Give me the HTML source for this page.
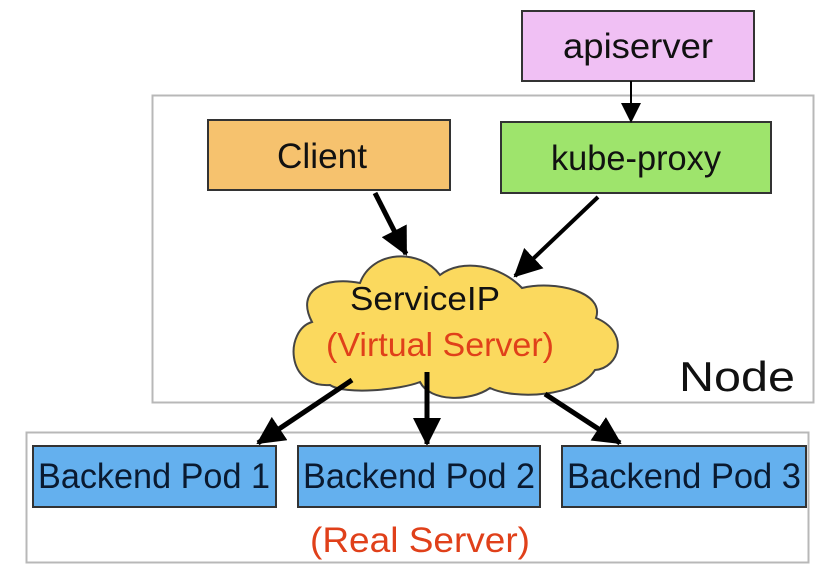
<!DOCTYPE html>
<html><head><meta charset="utf-8"><style>html,body{margin:0;padding:0;background:#fff}svg{display:block}</style></head>
<body>
<svg width="816" height="573" viewBox="0 0 816 573" xmlns="http://www.w3.org/2000/svg" font-family="Liberation Sans, Arial, sans-serif">
<defs>
<marker id="ab" markerWidth="28" markerHeight="28" refX="26" refY="14" orient="auto" markerUnits="userSpaceOnUse" viewBox="0 0 28 28">
<path d="M0,0 L28,14 L0,28 z" fill="#000"/></marker>
<marker id="am" markerWidth="20" markerHeight="20" refX="18" refY="10" orient="auto" markerUnits="userSpaceOnUse" viewBox="0 0 20 20">
<path d="M0,0 L20,10 L0,20 z" fill="#000"/></marker>
</defs>
<rect x="152.5" y="95.5" width="661" height="307" fill="#fff" stroke="#b8b8b8" stroke-width="2"/>
<rect x="26.5" y="432.5" width="782" height="130" fill="#fff" stroke="#b8b8b8" stroke-width="2"/>
<rect x="522" y="11" width="232" height="70" fill="#f0c0f4" stroke="#333" stroke-width="2"/>
<text x="638" y="58" font-size="35" text-anchor="middle" fill="#111" textLength="150" lengthAdjust="spacingAndGlyphs">apiserver</text>
<rect x="208" y="120" width="242" height="70" fill="#f6c26e" stroke="#333" stroke-width="2"/>
<text x="322" y="168" font-size="35" text-anchor="middle" fill="#111" textLength="90" lengthAdjust="spacingAndGlyphs">Client</text>
<rect x="501" y="122" width="270" height="71" fill="#9ee46c" stroke="#333" stroke-width="2"/>
<text x="636" y="170" font-size="35" text-anchor="middle" fill="#111" textLength="170" lengthAdjust="spacingAndGlyphs">kube-proxy</text>
<line x1="631" y1="81" x2="631" y2="121" stroke="#000" stroke-width="2" marker-end="url(#am)"/>
<line x1="375" y1="193" x2="406" y2="254" stroke="#000" stroke-width="5" marker-end="url(#ab)"/>
<line x1="598" y1="197" x2="515" y2="276" stroke="#000" stroke-width="4" marker-end="url(#ab)"/>
<path d="M330,385 C285,388 285,330 312,322 C295,290 325,276 360,283 C372,250 420,248 440,275 C462,258 500,265 522,288 C555,280 605,292 596,318 C630,332 620,368 595,370 C578,397 515,400 490,388 C470,402 430,402 420,382 C400,390 345,395 330,385 Z" fill="#fbd95e" stroke="#444" stroke-width="2"/>
<text x="425" y="310" font-size="33" text-anchor="middle" fill="#111" textLength="150" lengthAdjust="spacingAndGlyphs">ServiceIP</text>
<text x="440" y="356" font-size="33" text-anchor="middle" fill="#e0401a" textLength="228" lengthAdjust="spacingAndGlyphs">(Virtual Server)</text>
<text x="737" y="391" font-size="42" text-anchor="middle" fill="#111" textLength="116" lengthAdjust="spacingAndGlyphs">Node</text>
<line x1="352" y1="380" x2="258" y2="443" stroke="#000" stroke-width="5" marker-end="url(#ab)"/>
<line x1="427" y1="372" x2="427" y2="444" stroke="#000" stroke-width="5" marker-end="url(#ab)"/>
<line x1="545" y1="394" x2="620" y2="443" stroke="#000" stroke-width="5" marker-end="url(#ab)"/>
<rect x="33" y="446" width="243" height="61" fill="#64b0ee" stroke="#333" stroke-width="2"/>
<text x="154" y="488" font-size="35" text-anchor="middle" fill="#0a1a30" textLength="232" lengthAdjust="spacingAndGlyphs">Backend Pod 1</text>
<rect x="298" y="446" width="242" height="61" fill="#64b0ee" stroke="#333" stroke-width="2"/>
<text x="419" y="488" font-size="35" text-anchor="middle" fill="#0a1a30" textLength="232" lengthAdjust="spacingAndGlyphs">Backend Pod 2</text>
<rect x="562" y="446" width="244" height="61" fill="#64b0ee" stroke="#333" stroke-width="2"/>
<text x="684" y="488" font-size="35" text-anchor="middle" fill="#0a1a30" textLength="234" lengthAdjust="spacingAndGlyphs">Backend Pod 3</text>
<text x="420" y="552" font-size="35" text-anchor="middle" fill="#e0401a" textLength="220" lengthAdjust="spacingAndGlyphs">(Real Server)</text>
</svg>
</body></html>
